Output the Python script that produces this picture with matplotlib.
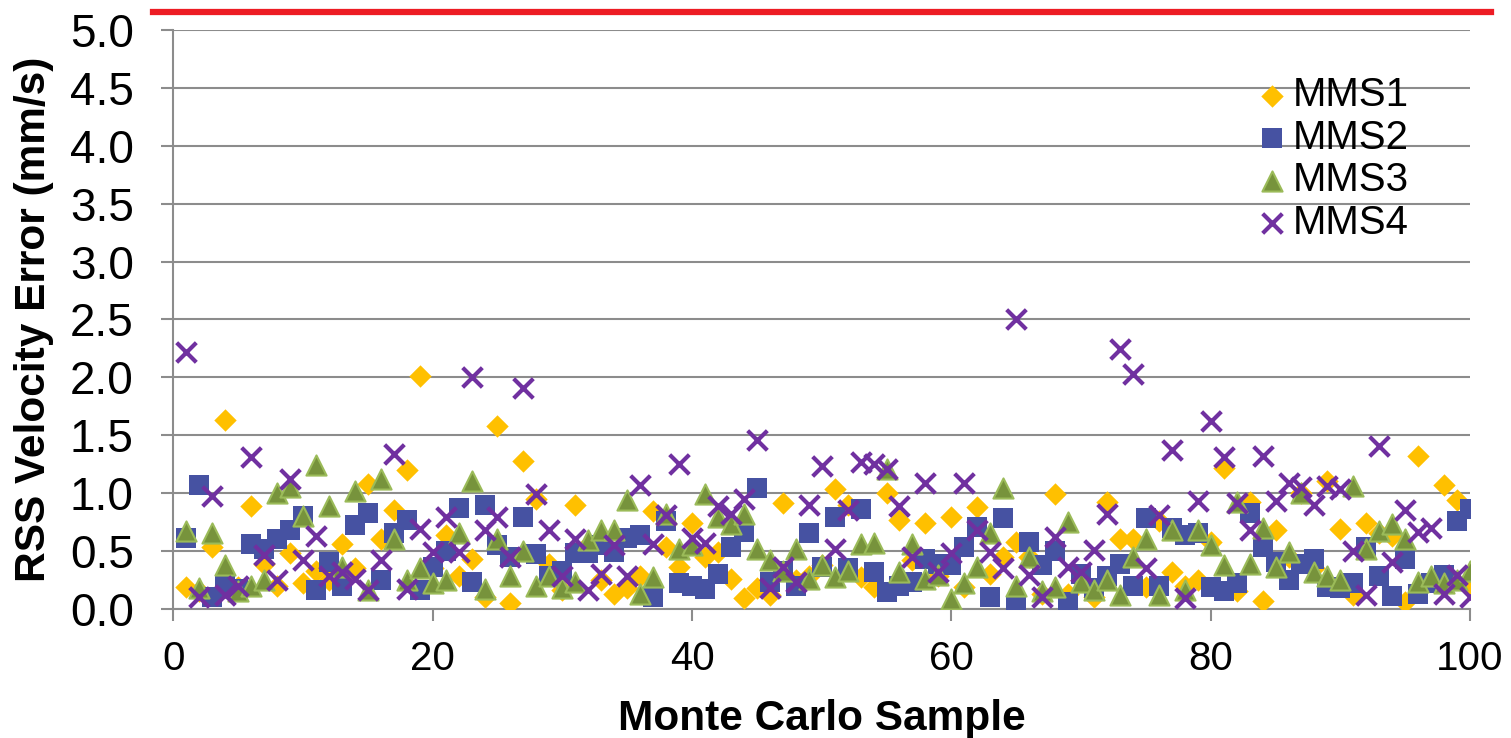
import numpy as np
import matplotlib
matplotlib.use("Agg")
import matplotlib.pyplot as plt

# Erro de velocidade RSS (mm/s) por amostra de Monte Carlo
amostras = list(range(1, 101))

mms1 = [0.19, 0.15, 0.53, 1.63, 0.19, 0.89, 0.39, 0.20, 0.48, 0.22,
        0.33, 0.25, 0.56, 0.35, 1.08, 0.60, 0.85, 1.20, 2.01, 0.35,
        0.64, 0.28, 0.43, 0.10, 1.58, 0.05, 1.28, 0.95, 0.39, 0.16,
        0.90, 0.55, 0.25, 0.13, 0.18, 0.28, 0.84, 0.53, 0.36, 0.74,
        0.45, 0.49, 0.26, 0.09, 0.18, 0.12, 0.91, 0.25, 0.28, 0.38,
        1.03, 0.90, 0.27, 0.19, 1.00, 0.77, 0.42, 0.74, 0.28, 0.79,
        0.19, 0.88, 0.30, 0.45, 0.58, 0.45, 0.13, 0.99, 0.13, 0.25,
        0.10, 0.92, 0.60, 0.60, 0.19, 0.76, 0.32, 0.20, 0.25, 0.58,
        1.22, 0.15, 0.92, 0.07, 0.68, 0.45, 1.00, 0.35, 1.10, 0.69,
        0.12, 0.74, 0.65, 0.63, 0.06, 1.32, 0.25, 1.07, 0.94, 0.19]

mms2 = [0.61, 1.07, 0.10, 0.20, 0.17, 0.56, 0.52, 0.60, 0.68, 0.80,
        0.16, 0.40, 0.20, 0.72, 0.83, 0.25, 0.65, 0.77, 0.16, 0.36,
        0.50, 0.87, 0.23, 0.90, 0.55, 0.45, 0.79, 0.47, 0.28, 0.33,
        0.48, 0.48, 0.55, 0.49, 0.61, 0.64, 0.10, 0.76, 0.22, 0.20,
        0.17, 0.30, 0.53, 0.66, 1.04, 0.23, 0.33, 0.20, 0.65, 0.36,
        0.79, 0.35, 0.86, 0.32, 0.14, 0.20, 0.23, 0.43, 0.39, 0.38,
        0.53, 0.71, 0.10, 0.78, 0.03, 0.58, 0.38, 0.50, 0.06, 0.30,
        0.18, 0.28, 0.39, 0.20, 0.78, 0.20, 0.70, 0.64, 0.65, 0.19,
        0.15, 0.22, 0.83, 0.53, 0.40, 0.25, 0.39, 0.43, 0.19, 0.18,
        0.22, 0.53, 0.28, 0.11, 0.43, 0.13, 0.22, 0.29, 0.76, 0.86]

mms3 = [0.67, 0.18, 0.65, 0.38, 0.15, 0.20, 0.25, 1.00, 1.05, 0.80,
        1.24, 0.89, 0.36, 1.02, 0.16, 1.12, 0.60, 0.25, 0.35, 0.22,
        0.25, 0.65, 1.10, 0.17, 0.60, 0.28, 0.50, 0.20, 0.28, 0.18,
        0.23, 0.59, 0.68, 0.68, 0.94, 0.13, 0.27, 0.82, 0.52, 0.55,
        0.99, 0.79, 0.73, 0.82, 0.52, 0.42, 0.33, 0.52, 0.26, 0.38,
        0.27, 0.33, 0.56, 0.57, 1.21, 0.32, 0.56, 0.26, 0.29, 0.08,
        0.22, 0.36, 0.65, 1.04, 0.20, 0.45, 0.15, 0.19, 0.75, 0.23,
        0.16, 0.25, 0.12, 0.45, 0.60, 0.12, 0.68, 0.16, 0.68, 0.55,
        0.38, 0.92, 0.39, 0.70, 0.36, 0.49, 1.00, 0.32, 0.28, 0.25,
        1.06, 0.52, 0.67, 0.73, 0.60, 0.23, 0.28, 0.22, 0.25, 0.33]

mms4 = [2.22, 0.10, 0.97, 0.12, 0.20, 1.31, 0.46, 0.25, 1.12, 0.42,
        0.63, 0.28, 0.32, 0.26, 0.16, 0.42, 1.34, 0.17, 0.69, 0.49,
        0.79, 0.49, 2.00, 0.68, 0.79, 0.45, 1.91, 0.99, 0.68, 0.28,
        0.60, 0.16, 0.30, 0.55, 0.28, 1.07, 0.56, 0.81, 1.25, 0.61,
        0.57, 0.89, 0.82, 0.95, 1.46, 0.18, 0.36, 0.23, 0.90, 1.23,
        0.52, 0.85, 1.27, 1.25, 1.21, 0.89, 0.45, 1.09, 0.32, 0.48,
        1.09, 0.68, 0.49, 0.35, 2.50, 0.29, 0.10, 0.62, 0.36, 0.32,
        0.51, 0.82, 2.24, 2.03, 0.35, 0.81, 1.37, 0.09, 0.93, 1.62,
        1.31, 0.91, 0.68, 1.32, 0.93, 1.09, 1.05, 0.90, 1.06, 1.03,
        0.50, 0.12, 1.41, 0.40, 0.85, 0.66, 0.70, 0.13, 0.29, 0.10]

requisito = 5.16  # linha vermelha no topo

plt.rcParams['font.family'] = ['Liberation Sans', 'DejaVu Sans']

cinza = '#8C8C8C'


def desenhar(ax):
    ax.scatter(amostras, mms1, marker='D', s=130, color='#FFC000',
               linewidths=0, label='MMS1', zorder=3)
    ax.scatter(amostras, mms2, marker='s', s=205, color='#4652A2',
               linewidths=0, label='MMS2', zorder=3)
    ax.scatter(amostras, mms3, marker='^', s=210, color='#77933C',
               edgecolors='#9BBB59', linewidths=1.5, label='MMS3', zorder=3)
    ax.scatter(amostras, mms4, marker='x', s=200, color='#7030A0',
               linewidths=3, label='MMS4', zorder=3)

    ax.axhline(requisito, xmin=-0.016, xmax=1.016, color='#ED1C24',
               lw=4.5, clip_on=False)


def formatar(ax):
    ax.set_xlim(0, 100)
    ax.set_ylim(0, 5)
    ax.set_xticks(np.arange(0, 101, 20))
    ax.set_yticks(np.arange(0, 5.01, 0.5))
    ax.set_yticklabels([f"{v:.1f}" for v in np.arange(0, 5.01, 0.5)])

    ax.grid(axis='y', color=cinza, lw=1.5)
    ax.set_axisbelow(True)
    for lado in ['top', 'right']:
        ax.spines[lado].set_visible(False)
    for lado in ['left', 'bottom']:
        ax.spines[lado].set_color(cinza)
        ax.spines[lado].set_linewidth(1.5)

    ax.tick_params(axis='both', colors=cinza, width=1.5, length=8.5,
                   labelcolor='black')
    ax.tick_params(axis='x', pad=14, labelsize=29)
    ax.tick_params(axis='y', pad=20, labelsize=33)

    ax.set_xlabel("Monte Carlo Sample", fontsize=30.5, fontweight='bold')
    ax.set_ylabel("RSS Velocity Error (mm/s)", fontsize=30.5,
                  fontweight='bold')
    ax.xaxis.set_label_coords(0.5, -0.156)
    ax.yaxis.set_label_coords(-0.092, 0.5)

    ax.legend(loc='upper left', bbox_to_anchor=(0.835, 0.92),
              frameon=False, fontsize=29, handletextpad=0.1,
              labelspacing=0.11, borderpad=0, borderaxespad=0,
              handlelength=0.8, scatterpoints=1)


def main():
    fig = plt.figure(figsize=(15.11, 7.38), dpi=100)
    ax = fig.add_axes([0.1147, 0.1752, 0.8582, 0.7841])
    desenhar(ax)
    formatar(ax)
    fig.savefig("out.png", dpi=100)


main()
